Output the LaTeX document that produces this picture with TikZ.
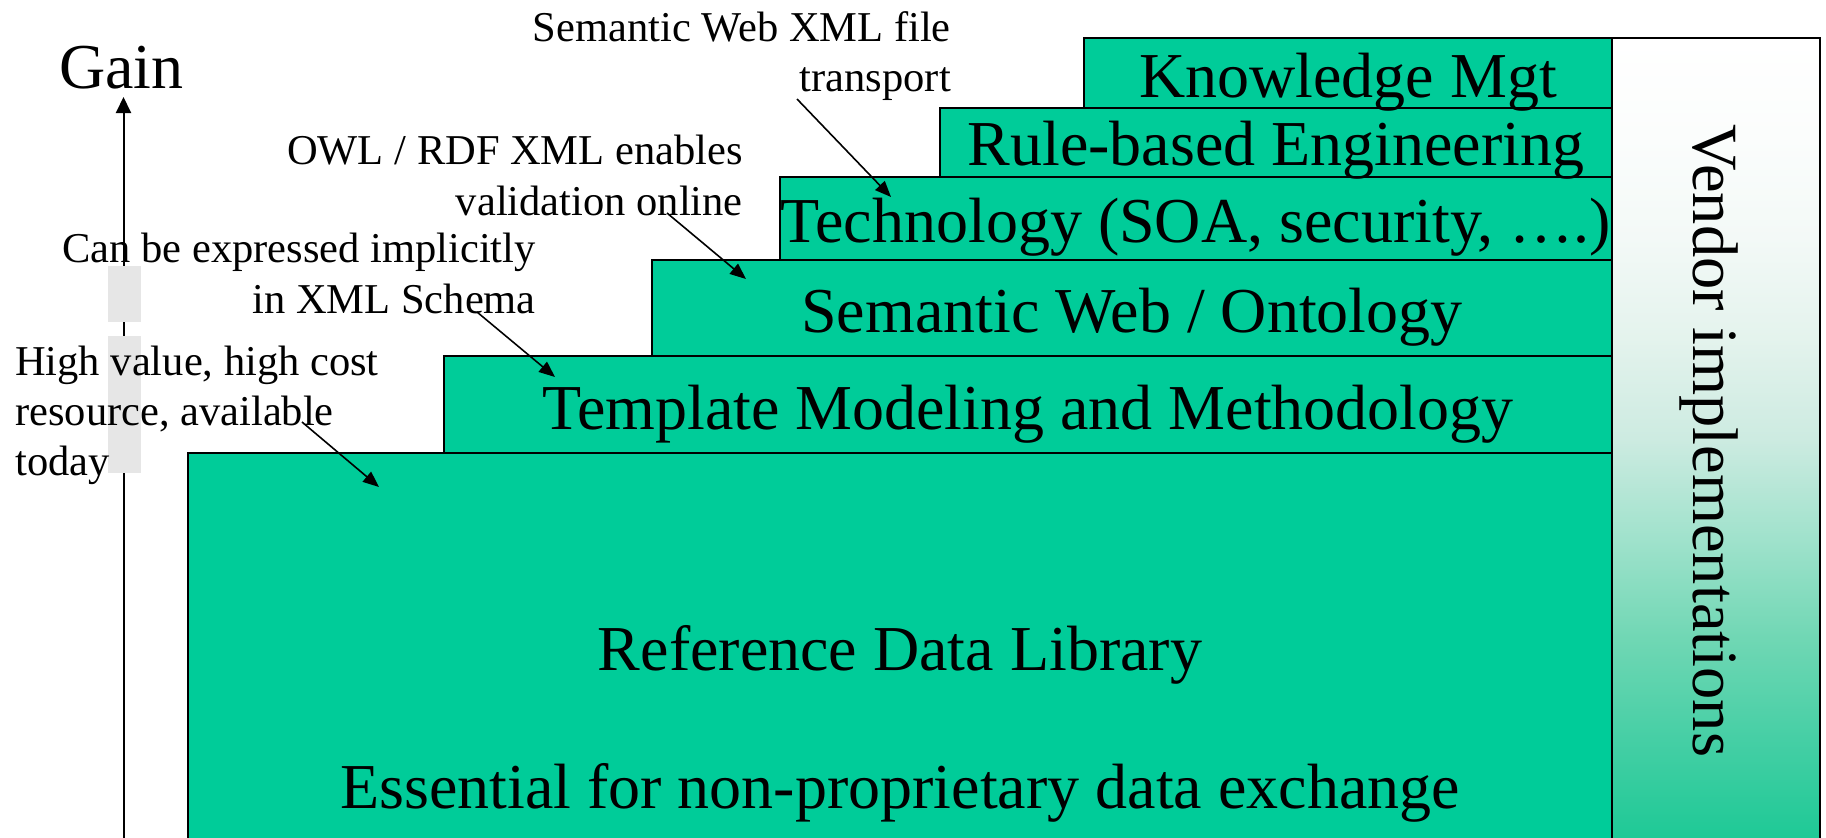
\documentclass[tikz,border=0pt]{standalone}
\usepackage{fontspec}
\setmainfont{Liberation Serif}
\usetikzlibrary{arrows.meta}
\definecolor{boxgreen}{HTML}{00CC99}
\definecolor{barmark}{HTML}{E6E6E6}
\definecolor{vA}{RGB}{255,255,255}
\definecolor{vB}{RGB}{251,253,252}
\definecolor{vC}{RGB}{243,249,247}
\definecolor{vD}{RGB}{228,243,237}
\definecolor{vE}{RGB}{205,235,225}
\definecolor{vF}{RGB}{160,226,204}
\definecolor{vG}{RGB}{112,215,180}
\definecolor{vH}{RGB}{70,207,165}
\definecolor{vI}{RGB}{30,201,150}
\pgfdeclareverticalshading{vendshade}{100bp}{color(0bp)=(vI); color(25bp)=(vI); color(31.25bp)=(vH); color(37.5bp)=(vG); color(43.75bp)=(vF); color(50bp)=(vE); color(56.25bp)=(vD); color(62.5bp)=(vC); color(68.75bp)=(vB); color(75bp)=(vA); color(100bp)=(vA)}
\begin{document}
\begin{tikzpicture}[x=1pt,y=-1pt,
  layer/.style={draw=black, line width=2pt, fill=boxgreen},
  big/.style={font=\fontsize{64}{74}\selectfont, inner sep=0pt, anchor=base},
  note/.style={font=\fontsize{42.5}{50}\selectfont, inner sep=0pt},
  pointer/.style={line width=1.6pt, -{Triangle[length=16pt,width=13pt]}},
]
\useasboundingbox (0,0) rectangle (1826,838);
% gain axis
\coordinate (axisfoot) at (123.5,870);
\coordinate (axistip) at (123.5,97);
\draw[line width=2pt, -{Triangle[length=16pt,width=15pt]}] (axisfoot) -- (axistip);
\fill[barmark] (108,266) rectangle (141,322);
\fill[barmark] (108,336) rectangle (141,473);
% layers
\draw[layer] (188,453) rectangle (1612,880);
\draw[layer] (444,356) rectangle (1612,453);
\draw[layer] (652,260) rectangle (1612,356);
\draw[layer] (780,177) rectangle (1612,260);
\draw[layer] (940,108) rectangle (1612,177);
\draw[layer] (1084,38) rectangle (1612,108);
% vendor column
\shade[shading=vendshade] (1612,38) rectangle (1820,838);
\draw[line width=2pt] (1612,880) -- (1612,38) -- (1820,38) -- (1820,880);
% layer labels
\node[big] (kmtext) at (1348,97) {Knowledge Mgt};
\node[big] (rbetext) at (1276,165) {Rule-based Engineering};
\node[big] (techtext) at (1196,242) {Technology (SOA, security, ….)};
\node[big] (swtext) at (1132,332) {Semantic Web / Ontology};
\node[big] (tmtext) at (1028,429) {Template Modeling and Methodology};
\node[big] (rdltext) at (900,670) {Reference Data Library};
\node[big] (esstext) at (900,808) {Essential for non-proprietary data exchange};
\node[font=\fontsize{64.5}{74}\selectfont, inner sep=0pt, anchor=base, rotate=-90] (vendtext) at (1693,441) {Vendor implementations};
\node[font=\fontsize{64}{74}\selectfont, inner sep=0pt, anchor=base west] (gain) at (59,88) {Gain};
% notes
\node[note, anchor=base east] (swx1) at (951,41) {Semantic Web XML file};
\node[note, anchor=base east] (swx2) at (951,91) {transport};
\node[note, anchor=base east] (owl1) at (743,164) {OWL / RDF XML enables};
\node[note, anchor=base east] (owl2) at (743,215) {validation online};
\node[note, anchor=base east] (xsd1) at (536,262) {Can be expressed implicitly};
\node[note, anchor=base east] (xsd2) at (536,313) {in XML Schema};
\node[note, anchor=base west] (hv1) at (15,375) {High value, high cost};
\node[note, anchor=base west] (hv2) at (15,425) {resource, available};
\node[note, anchor=base west] (hv3) at (15,475) {today};
% pointers
\coordinate (p1s) at (797,99);  \coordinate (p1e) at (891,197);
\coordinate (p2s) at (667,213); \coordinate (p2e) at (746,279);
\coordinate (p3s) at (477,312); \coordinate (p3e) at (555,377);
\coordinate (p4s) at (302,422); \coordinate (p4e) at (379,487);
\draw[pointer] (p1s) -- (p1e);
\draw[pointer] (p2s) -- (p2e);
\draw[pointer] (p3s) -- (p3e);
\draw[pointer] (p4s) -- (p4e);
\end{tikzpicture}
\end{document}
